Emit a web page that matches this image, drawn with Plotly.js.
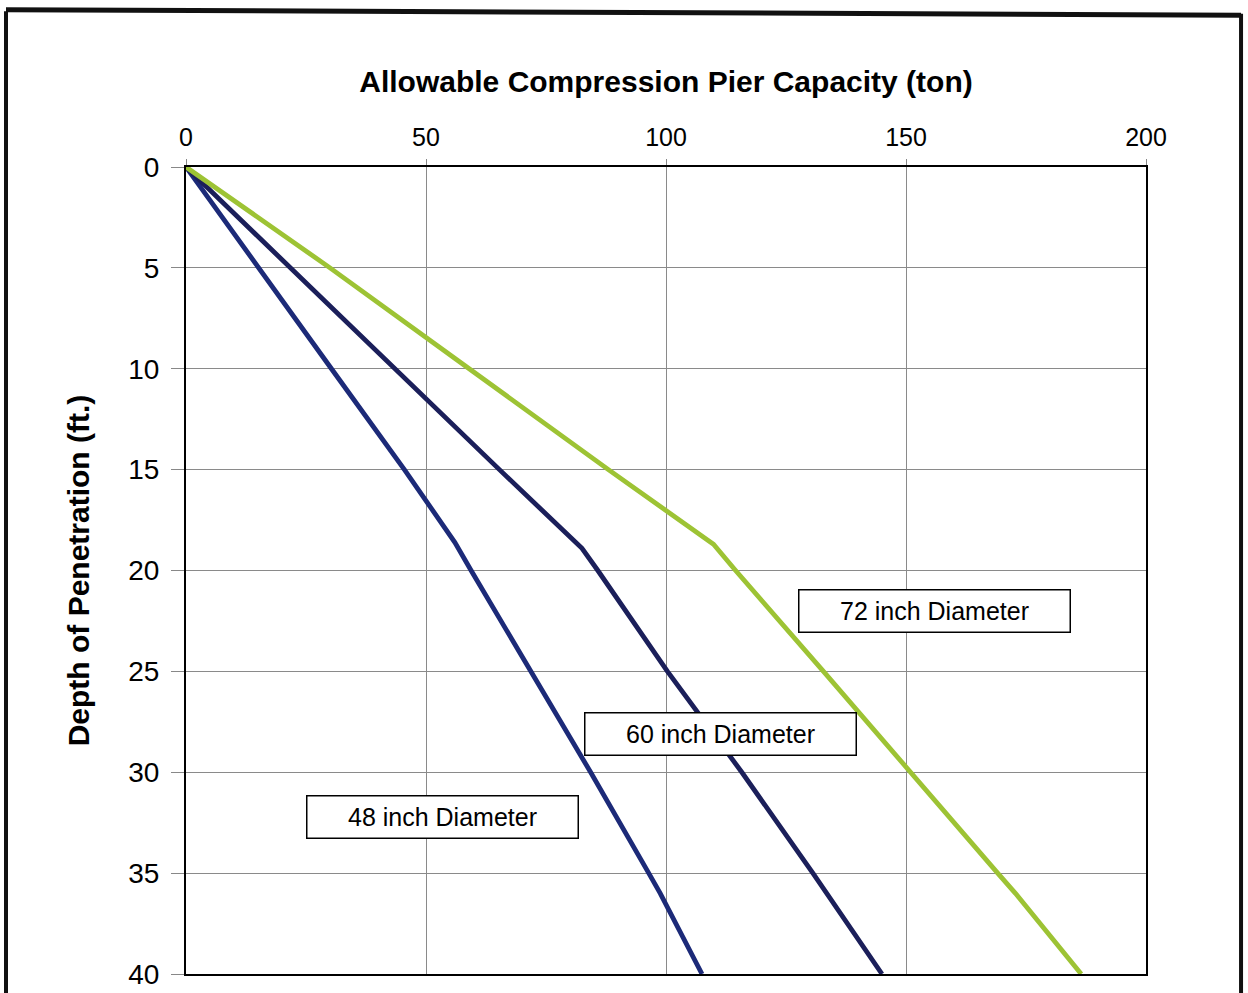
<!DOCTYPE html>
<html>
<head>
<meta charset="utf-8">
<script src="https://cdn.plot.ly/plotly-3.0.1.min.js"></script>
<style>html,body{margin:0;padding:0;background:#fff;}#chart{width:1248px;height:993px;}</style>
</head>
<body>
<div id="chart"></div>
<script>
// Depth of penetration (ft) and allowable compression capacity (ton)
const depth48 = [0, 5, 10, 15, 18.6, 20, 25, 30, 35, 36, 40];
const cap48   = [0, 15, 30.3, 45.5, 56, 59.4, 71.8, 84.3, 96.4, 98.8, 107.5];
const depth60 = [0, 5, 10, 15, 18.9, 20, 25, 30, 35, 40];
const cap60   = [0, 21.7, 43.6, 65.3, 82.5, 85.8, 100.3, 115.8, 130.6, 145];
const depth72 = [0, 5, 10, 15, 18.7, 20, 25, 30, 35, 36, 40];
const cap72   = [0, 30, 59, 88, 109.9, 114.5, 132.8, 150.8, 169.1, 172.8, 186.5];
const seriesNames = ["48 inch Diameter", "60 inch Diameter", "72 inch Diameter"];
const xTicks = [0, 50, 100, 150, 200];
const yTicks = [0, 5, 10, 15, 20, 25, 30, 35, 40];

const FONT = "Liberation Sans, Arial, sans-serif";

const traces = [
  {x: cap48, y: depth48, name: seriesNames[0], mode: "lines", line: {color: "#1c2a78", width: 4.8}},
  {x: cap60, y: depth60, name: seriesNames[1], mode: "lines", line: {color: "#1b1f5a", width: 4.8}},
  {x: cap72, y: depth72, name: seriesNames[2], mode: "lines", line: {color: "#9dc334", width: 4.8}}
];

const boxStyle = {
  showarrow: false, xref: "x", yref: "y",
  font: {family: FONT, size: 25, color: "#000"},
  bgcolor: "#fff", bordercolor: "#000", borderwidth: 1.5,
  width: 266, height: 37, borderpad: 2, align: "center"
};

const layout = {
  width: 1248, height: 993,
  margin: {l: 186, r: 102, t: 167, b: 19},
  paper_bgcolor: "#fff", plot_bgcolor: "#fff",
  showlegend: false,
  font: {family: FONT, color: "#000"},
  xaxis: {
    side: "top", range: [0, 200], tickvals: xTicks,
    tickfont: {family: FONT, size: 25, color: "#000"},
    ticks: "outside", ticklen: 6, tickcolor: "#888",
    ticklabelstandoff: 3, ticklabeloverflow: "allow",
    showgrid: true, gridcolor: "#8a8a8a", gridwidth: 1,
    showline: true, linecolor: "#000", linewidth: 2, mirror: true,
    zeroline: false,
    title: {text: "<b>Allowable Compression Pier Capacity (ton)</b>", standoff: 22,
            font: {family: FONT, size: 30, color: "#000"}}
  },
  yaxis: {
    range: [40, 0], tickvals: yTicks,
    tickfont: {family: FONT, size: 28, color: "#000"},
    ticks: "outside", ticklen: 13, tickcolor: "#888",
    ticklabelstandoff: 6, ticklabeloverflow: "allow",
    showgrid: true, gridcolor: "#8a8a8a", gridwidth: 1,
    showline: true, linecolor: "#000", linewidth: 2, mirror: true,
    zeroline: false,
    title: {text: "<b>Depth of Penetration (ft.)</b>", standoff: 30,
            font: {family: FONT, size: 30, color: "#000"}}
  },
  annotations: [
    Object.assign({}, boxStyle, {x: 156, y: 22, text: seriesNames[2]}),
    Object.assign({}, boxStyle, {x: 111.4, y: 28.1, text: seriesNames[1]}),
    Object.assign({}, boxStyle, {x: 53.5, y: 32.2, text: seriesNames[0]})
  ],
  shapes: [
    {type: "line", xref: "paper", yref: "paper", x0: -0.1875, x1: -0.1875, y0: -0.05, y1: 1.193, line: {color: "#111", width: 4}},
    {type: "line", xref: "paper", yref: "paper", x0: -0.1875, x1: 1.099, y0: 1.195, y1: 1.188, line: {color: "#111", width: 5}},
    {type: "line", xref: "paper", yref: "paper", x0: 1.099, x1: 1.099, y0: -0.05, y1: 1.19, line: {color: "#111", width: 4}}
  ]
};

Plotly.newPlot("chart", traces, layout, {displayModeBar: false, staticPlot: true});
</script>
</body>
</html>
